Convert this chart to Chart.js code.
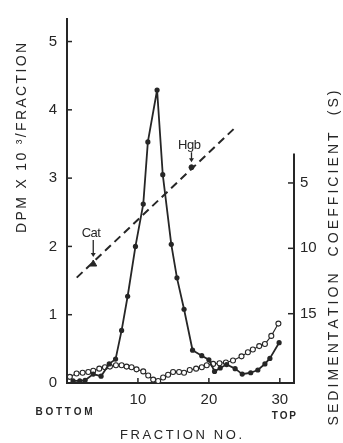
<!DOCTYPE html>
<html>
<head>
<meta charset="utf-8">
<script src="https://cdn.jsdelivr.net/npm/chart.js@4/dist/chart.umd.min.js"></script>
<style>
  html, body { margin: 0; padding: 0; background: #fff; }
  canvas { display: block; }
</style>
</head>
<body>
<canvas id="gradientChart" width="343" height="443"></canvas>
<script>
// Fracciones con puntos rellenos (linea continua)
const filledFraction = [0.85, 1.8, 2.55, 3.7, 4.8, 5.95, 6.85, 7.7, 8.55, 9.65, 10.75, 11.4, 12.7, 13.5, 14.7, 15.5, 16.5, 17.7, 19.0, 20.0, 20.8, 21.6, 22.5, 23.7, 24.7, 25.9, 26.9, 27.9, 28.6, 29.9];
const filledDpm = [0.03, 0.03, 0.04, 0.13, 0.10, 0.28, 0.35, 0.77, 1.27, 2.0, 2.62, 3.53, 4.29, 3.05, 2.03, 1.54, 1.08, 0.48, 0.40, 0.34, 0.17, 0.22, 0.27, 0.21, 0.13, 0.15, 0.19, 0.28, 0.36, 0.59];

// Fracciones con circulos abiertos
const openFraction = [0.4, 1.35, 2.2, 3.0, 3.7, 4.55, 5.35, 6.05, 6.9, 7.7, 8.4, 9.1, 9.8, 10.75, 11.45, 12.15, 12.85, 13.55, 14.25, 14.95, 15.8, 16.5, 17.3, 18.2, 19.0, 19.7, 20.6, 21.5, 22.4, 23.4, 24.6, 25.5, 26.2, 27.1, 27.9, 28.8, 29.8];
const openDpm = [0.09, 0.14, 0.15, 0.16, 0.18, 0.21, 0.23, 0.24, 0.26, 0.26, 0.24, 0.23, 0.20, 0.17, 0.11, 0.05, 0.03, 0.08, 0.12, 0.16, 0.16, 0.15, 0.19, 0.21, 0.23, 0.26, 0.28, 0.29, 0.30, 0.33, 0.39, 0.45, 0.49, 0.54, 0.57, 0.69, 0.87];

// Recta de calibracion (coeficiente de sedimentacion, eje derecho)
const sedFraction = [1.37, 23.9];
const sedCoef = [12.24, 0.67];

// Marcadores
const markerNames = ['Cat', 'Hgb'];
const markerFraction = [3.7, 17.55];
const markerCoef = [11.2, 3.8];

// Ticks
const dpmTicks = [0, 1, 2, 3, 4, 5];
const fractionTicks = [10, 20, 30];
const sedTicks = [5, 10, 15];
const SED_AXIS_TOP = 2.75;

const INK = '#262626';
const FONT = "'Liberation Sans', 'DejaVu Sans', sans-serif";

function toPoints(xs, ys) {
    return xs.map((x, i) => ({ x: x, y: ys[i] }));
}

function line(ctx, x1, y1, x2, y2) {
    ctx.beginPath();
    ctx.moveTo(x1, y1);
    ctx.lineTo(x2, y2);
    ctx.stroke();
}

/**
 * Texto con espaciado repartido para ocupar un ancho dado.
 */
function spacedText(ctx, text, cx, cy, width, font, angle) {
    ctx.save();
    ctx.translate(cx, cy);
    ctx.rotate(angle || 0);
    ctx.font = font;
    ctx.fillStyle = INK;
    ctx.textBaseline = 'middle';
    ctx.textAlign = 'left';
    const chars = [...text];
    const widths = chars.map(c => ctx.measureText(c).width);
    const natural = widths.reduce((a, b) => a + b, 0);
    const gap = chars.length > 1 ? (width - natural) / (chars.length - 1) : 0;
    let pos = -width / 2;
    chars.forEach((c, i) => {
        ctx.fillText(c, pos, 0);
        pos += widths[i] + gap;
    });
    ctx.restore();
}

// Plugin: fondo, eje derecho parcial, ticks hacia dentro y rotulos
const decor = {
    id: 'decor',
    beforeDraw(chart) {
        const ctx = chart.ctx;
        ctx.save();
        ctx.fillStyle = '#fff';
        ctx.fillRect(0, 0, chart.width, chart.height);
        ctx.restore();
    },
    afterDraw(chart) {
        const ctx = chart.ctx;
        const area = chart.chartArea;
        const { x, y, yS } = chart.scales;
        ctx.save();
        ctx.strokeStyle = INK;
        ctx.fillStyle = INK;

        // eje derecho (solo la parte baja)
        ctx.lineWidth = 2;
        line(ctx, area.right, yS.getPixelForValue(SED_AXIS_TOP), area.right, area.bottom + 1);

        // ticks hacia dentro
        ctx.lineWidth = 1.5;
        dpmTicks.slice(1).forEach(v => {
            const py = y.getPixelForValue(v);
            line(ctx, area.left, py, area.left + 5, py);
        });
        sedTicks.forEach(v => {
            const py = yS.getPixelForValue(v);
            line(ctx, area.right - 6, py, area.right, py);
        });
        fractionTicks.forEach(v => {
            const px = x.getPixelForValue(v);
            line(ctx, px, area.bottom, px, area.bottom - 5);
        });

        // Cat / Hgb con flechas
        const offsets = { Cat: [31, 24, 7], Hgb: [22, 15, 5] };
        markerNames.forEach((name, i) => {
            const px = x.getPixelForValue(markerFraction[i]);
            const py = yS.getPixelForValue(markerCoef[i]);
            const [lab, a1, a2] = offsets[name];
            ctx.lineWidth = 1.3;
            line(ctx, px, py - a1, px, py - a2 - 3);
            ctx.beginPath();
            ctx.moveTo(px - 2.5, py - a2 - 4);
            ctx.lineTo(px + 2.5, py - a2 - 4);
            ctx.lineTo(px, py - a2);
            ctx.closePath();
            ctx.fill();
            spacedText(ctx, name, px - 2, py - lab, name === 'Cat' ? 19 : 23, '13px ' + FONT, 0);
        });

        // BOTTOM / TOP
        spacedText(ctx, 'BOTTOM', 64, 412, 57, 'bold 10px ' + FONT, 0);
        spacedText(ctx, 'TOP', x.getPixelForValue(30) + 4, 416, 24, 'bold 10px ' + FONT, 0);

        // titulos de ejes
        spacedText(ctx, 'FRACTION NO.', 181, 435, 122, '13px ' + FONT, 0);
        spacedText(ctx, 'DPM X 10 \u00b3/FRACTION', 22.5, 138, 190, '14px ' + FONT, -Math.PI / 2);
        spacedText(ctx, 'SEDIMENTATION  COEFFICIENT  (S)', 334, 258, 335, '14px ' + FONT, -Math.PI / 2);

        ctx.restore();
    }
};

function initChart() {
    const tickFont = { family: FONT, size: 15 };
    const ctx = document.getElementById('gradientChart').getContext('2d');
    return new Chart(ctx, {
        type: 'line',
        data: {
            datasets: [{
                label: 'relleno',
                data: toPoints(filledFraction, filledDpm),
                yAxisID: 'y',
                borderColor: INK,
                borderWidth: 1.8,
                borderJoinStyle: 'round',
                pointRadius: 2.6,
                pointBackgroundColor: INK,
                pointBorderWidth: 0,
                tension: 0
            }, {
                label: 'abierto',
                data: toPoints(openFraction, openDpm),
                yAxisID: 'y',
                borderColor: INK,
                borderWidth: 1.1,
                borderJoinStyle: 'round',
                pointRadius: 2.5,
                pointBackgroundColor: '#fff',
                pointBorderColor: INK,
                pointBorderWidth: 1.1,
                tension: 0
            }, {
                label: 'sedimentacion',
                data: toPoints(sedFraction, sedCoef),
                yAxisID: 'yS',
                borderColor: INK,
                borderWidth: 2,
                borderDash: [8, 5],
                pointRadius: 0
            }, {
                label: 'marcadores',
                data: toPoints(markerFraction, markerCoef),
                yAxisID: 'yS',
                showLine: false,
                pointStyle: ['triangle', 'circle'],
                pointRadius: [4, 2.5],
                pointBackgroundColor: INK,
                pointBorderColor: INK
            }]
        },
        options: {
            responsive: false,
            animation: false,
            devicePixelRatio: 1,
            layout: { padding: { top: 10, left: 0, right: 0, bottom: 0 } },
            plugins: {
                legend: { display: false },
                tooltip: { enabled: false }
            },
            scales: {
                x: {
                    type: 'linear',
                    min: 0,
                    max: 32,
                    grid: { display: false, drawTicks: false },
                    border: { display: true, color: INK, width: 2 },
                    ticks: { padding: 8, color: INK, font: tickFont },
                    afterBuildTicks: s => { s.ticks = fractionTicks.map(v => ({ value: v })); },
                    afterFit: s => { s.height = 60; }
                },
                y: {
                    position: 'left',
                    min: 0,
                    max: 5.33,
                    grid: { display: false, drawTicks: false },
                    border: { display: true, color: INK, width: 2 },
                    ticks: { padding: 10, color: INK, font: tickFont },
                    afterBuildTicks: s => { s.ticks = dpmTicks.map(v => ({ value: v })); },
                    afterFit: s => { s.width = 67; }
                },
                yS: {
                    position: 'right',
                    reverse: true,
                    min: -7.54,
                    max: 20.3,
                    grid: { display: false, drawTicks: false },
                    border: { display: false },
                    ticks: { padding: 6, color: INK, font: tickFont },
                    afterBuildTicks: s => { s.ticks = sedTicks.map(v => ({ value: v })); },
                    afterFit: s => { s.width = 49; }
                }
            }
        },
        plugins: [decor]
    });
}

document.addEventListener('DOMContentLoaded', () => {
    initChart();
});
</script>
</body>
</html>
